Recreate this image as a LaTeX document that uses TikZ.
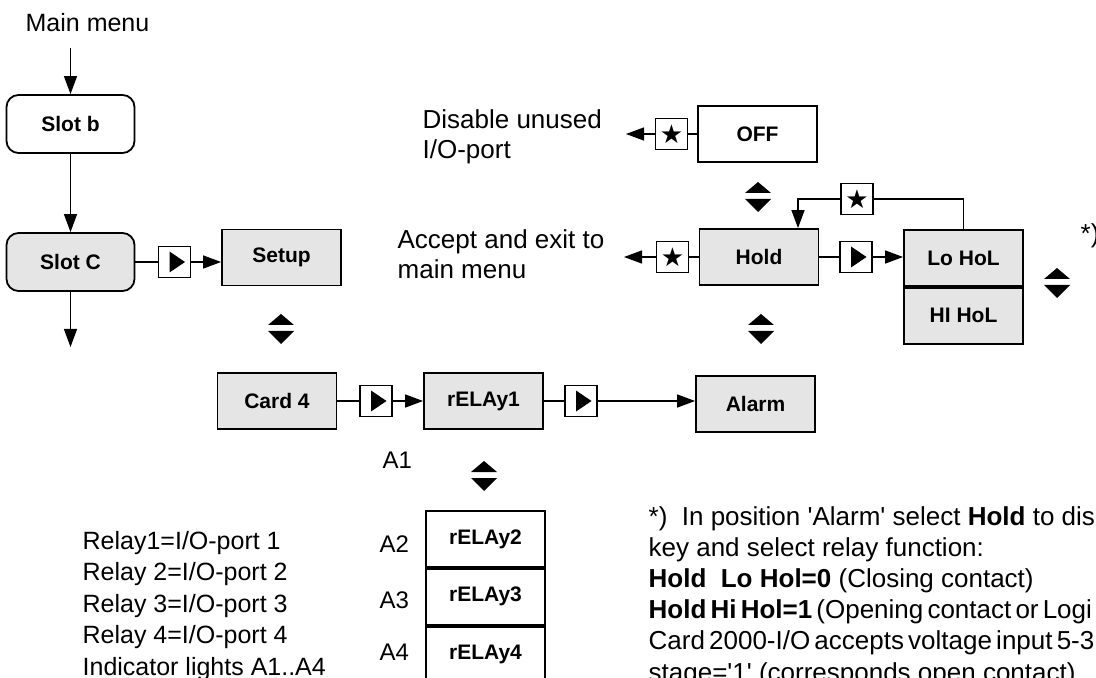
\documentclass[tikz,border=0pt]{standalone}
\usepackage{fontspec}
\setmainfont{Liberation Sans}
\newfontfamily\symfont{DejaVu Sans}
\usepackage{xcolor}
\usetikzlibrary{arrows.meta,positioning}
\definecolor{menugray}{gray}{0.9}
\newcommand{\tight}{\spaceskip=0.16em plus 0.05em\relax}

\begin{document}
\begin{tikzpicture}[x=0.5pt, y=-0.5pt, line width=0.65pt, >={Triangle[length=9pt,width=6.5pt]},
  menu/.style = {draw, line width=0.9pt, minimum width=59.5pt, minimum height=28pt, inner sep=0pt, font=\fontsize{10.5}{12}\selectfont\bfseries},
  grey/.style = {menu, fill=menugray},
  slot/.style = {menu, rounded corners=6pt, minimum width=64pt, minimum height=29pt},
  key/.style = {draw, fill=white, line width=0.7pt, minimum width=16pt, minimum height=15.5pt, inner sep=0pt},
  starkey/.style = {key, font=\symfont\fontsize{13}{13}\selectfont},
  txt/.style = {anchor=base west, inner sep=0pt, align=left, font=\fontsize{13}{15}\selectfont},
  smalltxt/.style = {txt, font=\fontsize{12.5}{15}\selectfont},
  updown/.pic = {\fill (-6.5pt,2pt) -- (6.5pt,2pt) -- (0pt,7.5pt) -- cycle;
                 \fill (-6.5pt,-1pt) -- (6.5pt,-1pt) -- (0pt,-7.5pt) -- cycle;}]
  \useasboundingbox (0,0) rectangle (1096,678);

  % left column
  \node[smalltxt] (main_menu) at (25,32) {Main menu};
  \coordinate (mm_in) at (70.5,48);
  \node[slot] (slot_b) at (70.5,124) {Slot b};
  \node[slot, fill=menugray] (slot_c) at (70.5,262) {Slot C};
  \coordinate (sc_out) at (70.5,347);
  \node[key] (key_1) at (174.5,262) {};
  \node[grey] (setup) at (281.5,257.5) {Setup};
  \pic at (281,329) {updown};

  \draw[->] (mm_in) -- (slot_b);
  \draw[->] (slot_b) -- (slot_c);
  \draw[->] (slot_c) -- (sc_out);
  \draw (slot_c) -- (key_1);
  \draw[->] (key_1) -- (key_1 -| setup.west);

  % card row
  \node[grey] (card_4) at (277,401) {Card 4};
  \node[key] (key_2) at (376,401) {};
  \node[grey] (relay_1) at (483.5,401) {rELAy1};
  \node[key] (key_3) at (581,401) {};
  \node[grey] (alarm) at (755.5,404) {Alarm};

  \draw (card_4) -- (key_2);
  \draw[->] (key_2) -- (relay_1);
  \draw (relay_1) -- (key_3);
  \draw[->] (key_3) -- (key_3 -| alarm.west);

  % relays
  \pic at (484,476) {updown};
  \node[menu, fill=white] (relay_2) at (485.5,539) {rELAy2};
  \node[menu, fill=white, below=0pt of relay_2] (relay_3) {rELAy3};
  \node[menu, fill=white, below=0pt of relay_3] (relay_4) {rELAy4};
  \node[txt, font=\fontsize{12}{14}\selectfont] (a_1) at (382,468) {A1};
  \node[txt, font=\fontsize{12}{14}\selectfont] (a_2) at (379,552) {A2};
  \node[txt, font=\fontsize{12}{14}\selectfont] (a_3) at (379,608) {A3};
  \node[txt, font=\fontsize{12}{14}\selectfont] (a_4) at (379,660) {A4};

  \foreach \t [count=\i] in {Relay1=I/O-port 1, Relay 2=I/O-port 2, Relay 3=I/O-port 3,
      Relay 4=I/O-port 4, Indicator lights A1..A4}
    \node[smalltxt] (relay_txt_\i) at (82,{549+31.5*(\i-1)}) {\t};

  % hold branch
  \node[menu] (off) at (757.5,134) {OFF};
  \node[starkey] (key_4) at (671.5,134) {★};
  \coordinate (off_out) at (626,134);
  \node[txt] (disable) at (422,159) {Disable unused\\I/O-port};
  \pic at (758,197) {updown};

  \node[grey] (hold) at (759,257) {Hold};
  \node[starkey] (key_5) at (672.5,257) {★};
  \coordinate (hold_out) at (624,257);
  \node[txt] (accept) at (397,279) {Accept and exit to\\main menu};
  \node[key] (key_6) at (856,257) {};
  \node[grey] (lo_hol) at (963.5,258) {Lo HoL};
  \node[grey, below=0pt of lo_hol] (hi_hol) {HI HoL};
  \node[starkey] (key_7) at (857,199) {★};
  \pic at (761,329) {updown};
  \pic at (1057,283) {updown};
  \node[txt] (note_mark) at (1080,243) {*)};

  % play keys
  \foreach \k in {key_1, key_2, key_3, key_6}
    \fill ([shift={(-2.5pt,-5.25pt)}]\k.center) -- ++(0pt,10.5pt) -- ++(7.75pt,-5.25pt) -- cycle;

  \draw (off) -- (key_4);
  \draw[->] (key_4) -- (off_out);
  \draw (hold) -- (key_5);
  \draw[->] (key_5) -- (hold_out);
  \draw (hold) -- (key_6);
  \draw[->] (key_6) -- (key_6 -| lo_hol.west);
  \draw (lo_hol.north) |- (key_7);
  \draw[->] (key_7) -| ([xshift=19.5pt]hold.north);

  % footnote
  \foreach \t [count=\i] in {{*)\ \ In position \textquotesingle Alarm\textquotesingle\ select \textbf{Hold} to dis},
      {key and select relay function:},
      {\textbf{Hold\ \ Lo Hol=0} (Closing contact)},
      {\tight\textbf{Hold Hi Hol=1} (Opening contact or Logi},
      {\tight Card 2000-I/O accepts voltage input 5-3},
      {stage=\textquotesingle1\textquotesingle\ (corresponds open contact).}}
    \node[txt] (note_\i) at (648,{525+31.2*(\i-1)}) {\t};
\end{tikzpicture}
\end{document}
